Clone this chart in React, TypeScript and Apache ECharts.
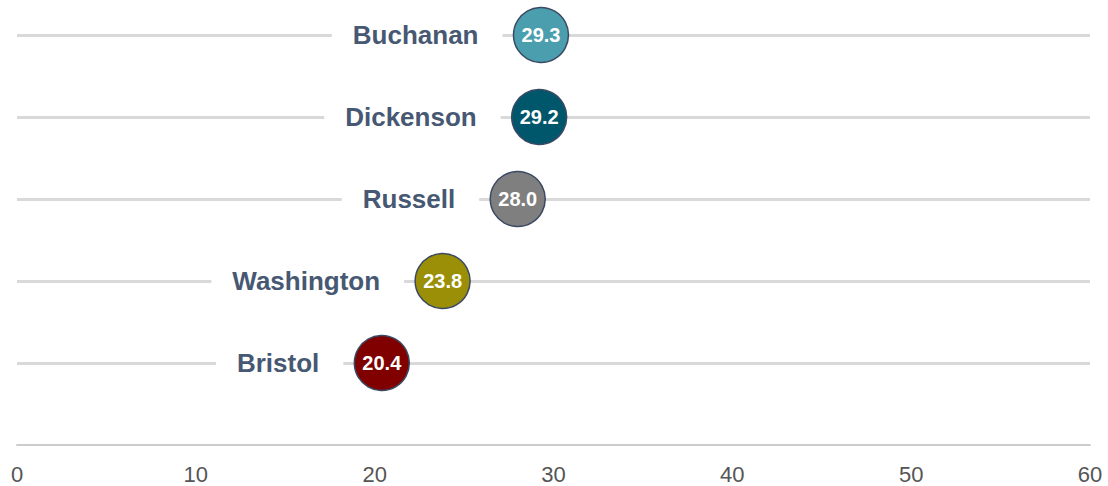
import React, { useEffect, useRef } from "react";
import * as echarts from "echarts";

const counties = ["Bristol", "Washington", "Russell", "Dickenson", "Buchanan"];
const values = [20.4, 23.8, 28.0, 29.2, 29.3];
const dotColors = ["#800000", "#9a8f06", "#7f7f7f", "#00566b", "#4a9ead"];
const yCategories = ["", ...counties];
const xTicks = [0, 10, 20, 30, 40, 50, 60];

const FONT = "'Liberation Sans', Arial, Helvetica, sans-serif";

export default function App() {
  const ref = useRef<HTMLDivElement>(null);
  useEffect(() => {
    if (!ref.current) return;
    const chart = echarts.init(ref.current, undefined, { renderer: "svg" });
    const pts = counties.map((c, i) => [values[i], c]);
    chart.setOption({
      animation: false,
      backgroundColor: "#ffffff",
      grid: { left: 17, right: 18, top: 35, bottom: 41, containLabel: false },
      xAxis: {
        type: "value",
        min: xTicks[0],
        max: xTicks[xTicks.length - 1],
        interval: 10,
        axisLine: { show: true, lineStyle: { color: "#cccccc", width: 2 } },
        axisTick: { show: false },
        splitLine: { show: false },
        axisLabel: {
          color: "#555555",
          fontSize: 22,
          fontFamily: FONT,
          margin: 18,
        },
      },
      yAxis: {
        type: "category",
        data: yCategories,
        boundaryGap: false,
        axisLine: { show: false },
        axisTick: { show: false },
        axisLabel: { show: false },
        splitLine: {
          show: true,
          interval: (index: number) => index > 0,
          lineStyle: { color: "#d9d9d9", width: 3 },
        },
      },
      series: [
        {
          type: "scatter",
          z: 2,
          symbolSize: 55,
          itemStyle: { color: "rgba(255,255,255,0)", opacity: 1 },
          data: pts,
          silent: true,
          label: {
            show: true,
            position: "left",
            distance: 11,
            formatter: (p: any) => p.value[1],
            backgroundColor: "#ffffff",
            padding: [4, 24, 4, 21],
            color: "#475873",
            fontSize: 26,
            fontWeight: "bold",
            fontFamily: FONT,
            opacity: 1,
          },
        },
        {
          type: "scatter",
          z: 3,
          symbolSize: 55,
          itemStyle: { opacity: 1 },
          data: pts.map((p, i) => ({
            value: p,
            itemStyle: {
              color: dotColors[i],
              borderColor: "#3b4a64",
              borderWidth: 1.5,
              opacity: 1,
            },
          })),
          label: {
            show: true,
            position: "inside",
            formatter: (p: any) => Number(p.value[0]).toFixed(1),
            color: "#ffffff",
            fontSize: 20,
            fontWeight: "bold",
            fontFamily: FONT,
            opacity: 1,
          },
        },
      ],
    });
    return () => chart.dispose();
  }, []);
  return (
    <div
      ref={ref}
      style={{ position: "absolute", left: 0, top: 0, width: 1108, height: 486 }}
    />
  );
}
